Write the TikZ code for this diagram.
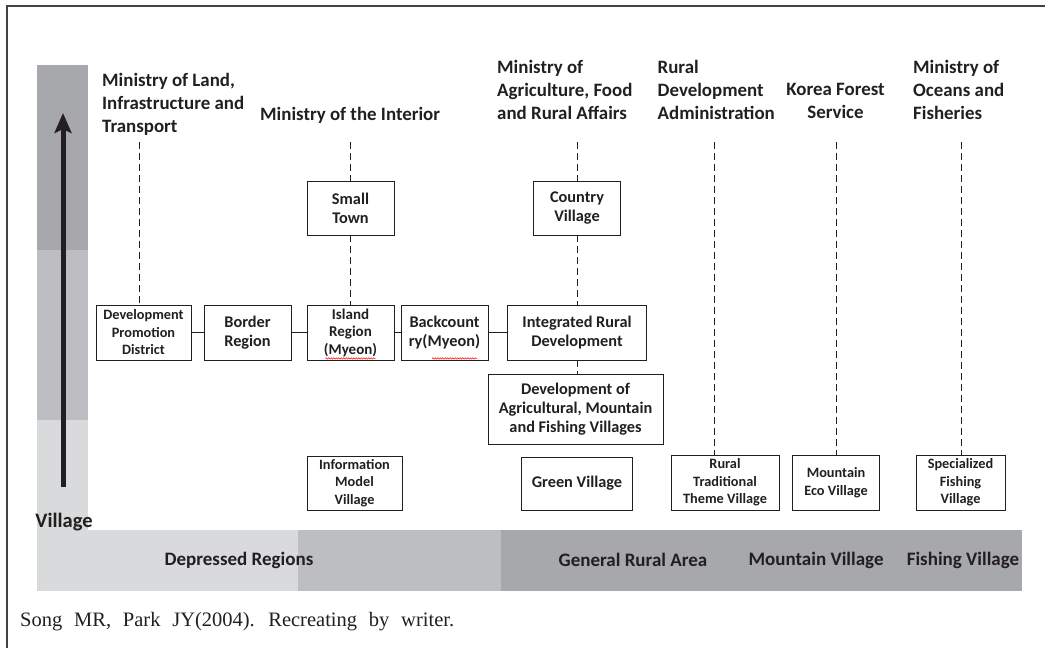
\documentclass[tikz,border=0pt]{standalone}
\usepackage{fontspec}
\setmainfont{Carlito}
\newfontfamily\capfont{Liberation Serif}[WordSpace={2.3}]
\usetikzlibrary{arrows.meta,decorations.pathmorphing}
\definecolor{ink}{HTML}{231F20}
\definecolor{barA}{HTML}{D9DADC}
\definecolor{barB}{HTML}{BDBEC1}
\definecolor{barC}{HTML}{A7A8AB}

\begin{document}
\begin{tikzpicture}[x=1pt, y=-1pt, text=ink,
	unit/.style={draw=ink, line width=0.9pt, fill=white, align=center, inner sep=1pt, font=\bfseries\fontsize{16.3}{19}\selectfont},
	small/.style={unit, font=\bfseries\fontsize{14.3}{17.5}\selectfont},
	head/.style={align=left, anchor=north west, inner sep=0pt, font=\bfseries\fontsize{18.9}{23}\selectfont},
	lane/.style={draw=ink, dash pattern=on 7pt off 4pt, line width=0.8pt},
	band/.style={inner sep=0pt, font=\bfseries\fontsize{19}{20}\selectfont},
	wavy/.style={red, line width=0.5pt, decorate, decoration={snake, amplitude=0.7pt, segment length=2.5pt}}]
	\useasboundingbox (0,0) rectangle (1045,648);
	\draw[line width=1.5pt, ink!85] (7,648) -- (7,6) -- (1045,6);

	\fill[barC] (37,65) rectangle (88,250);
	\fill[barB] (37,250) rectangle (88,420);
	\fill[barA] (37,420) rectangle (88,530);
	\fill[barA] (37,530) rectangle (298,591);
	\fill[barB] (298,530) rectangle (501,591);
	\fill[barC] (501,530) rectangle (1022,591);

	\coordinate (lo) at (63,487);
	\coordinate (hi) at (63,113);
	\draw[line width=5pt, ink, -{Stealth[length=20pt, width=17pt, inset=4pt]}] (lo) -- (hi);
	\node[band, font=\bfseries\fontsize{20.5}{22}\selectfont] (village) at (64,522) {Village};

	\node[band] (depressed) at (239,560) {Depressed Regions};
	\node[band] (general) at (633,560) {General Rural Area};
	\node[band] (mountain) at (816,560) {Mountain Village};
	\node[band] (fishingv) at (963,560) {Fishing Village};

	\node[head] (mland) at (102,73.5) {Ministry of Land,\\Infrastructure and\\Transport};
	\node[head] (minter) at (260,107.5) {Ministry of the Interior};
	\node[head] (magri) at (497,60.5) {Ministry of\\Agriculture, Food\\and Rural Affairs};
	\node[head] (rda) at (657.5,60.5) {Rural\\Development\\Administration};
	\node[head, align=center, anchor=north] (kfs) at (835.5,83.5) {Korea Forest\\Service};
	\node[head] (mocean) at (913,60.5) {Ministry of\\Oceans and\\Fisheries};

	\node[unit, minimum width=87pt, minimum height=54pt] (smalltown) at (350.5,208) {Small\\Town};
	\node[unit, minimum width=87.5pt, minimum height=54pt] (country) at (577,208) {Country\\Village};

	\node[small, minimum width=95pt, minimum height=55pt] (devprom) at (143.5,332.5) {Development\\Promotion\\District};
	\node[unit, minimum width=87pt, minimum height=55pt] (border) at (247.5,332.5) {Border\\Region};
	\node[small, font=\bfseries\fontsize{15}{17.5}\selectfont, minimum width=87pt, minimum height=55pt] (island) at (350.5,332.5) {Island\\Region\\(Myeon)};
	\node[unit, minimum width=87pt, minimum height=55pt] (backc) at (444.5,332.5) {Backcount\\ry(Myeon)};
	\node[unit, minimum width=138.5pt, minimum height=55pt] (intrural) at (577,332.5) {Integrated Rural\\Development};
	\node[unit, minimum width=175pt, minimum height=70pt] (devagri) at (575.5,409) {Development of\\Agricultural, Mountain\\and Fishing Villages};

	\node[small, minimum width=95pt, minimum height=54pt] (infomodel) at (354.5,483) {Information\\Model\\Village};
	\node[unit, minimum width=111pt, minimum height=53pt] (green) at (577,483.5) {Green Village};
	\node[small, minimum width=108pt, minimum height=55pt] (ruraltrad) at (725,482.5) {Rural\\Traditional\\Theme Village};
	\node[small, minimum width=87.5pt, minimum height=55pt] (mtneco) at (836,482.5) {Mountain\\Eco Village};
	\node[small, minimum width=89pt, minimum height=55pt] (fishing) at (960.5,482.5) {Specialized\\Fishing\\Village};

	\draw[wavy] ([shift={(-25,-2)}]island.south) -- ([shift={(25,-2)}]island.south);
	\draw[wavy] ([shift={(-12.5,-2)}]backc.south) -- ([shift={(32.5,-2)}]backc.south);

	\draw[line width=0.9pt, ink] (devprom) -- (border) -- (island) -- (backc) -- (intrural);

	\coordinate (tland) at (139,142);
	\coordinate (tinter) at (350.5,142);
	\coordinate (tagri) at (577,142);
	\coordinate (trda) at (714,142);
	\coordinate (tkfs) at (836,142);
	\coordinate (tocean) at (961,142);
	\draw[lane] (tland) -- (tland |- devprom.north);
	\draw[lane] (tinter) -- (smalltown) (smalltown) -- (island);
	\draw[lane] (tagri) -- (country) (country) -- (intrural) (intrural.south) -- (intrural.south |- devagri.north);
	\draw[lane] (trda) -- (trda |- ruraltrad.north);
	\draw[lane] (tkfs) -- (mtneco);
	\draw[lane] (tocean) -- (tocean |- fishing.north);

	\node[anchor=west, inner sep=0pt, font=\capfont\fontsize{20.5}{22}\selectfont] (source) at (20,622) {Song MR, Park JY(2004). Recreating by writer.};
\end{tikzpicture}
\end{document}
